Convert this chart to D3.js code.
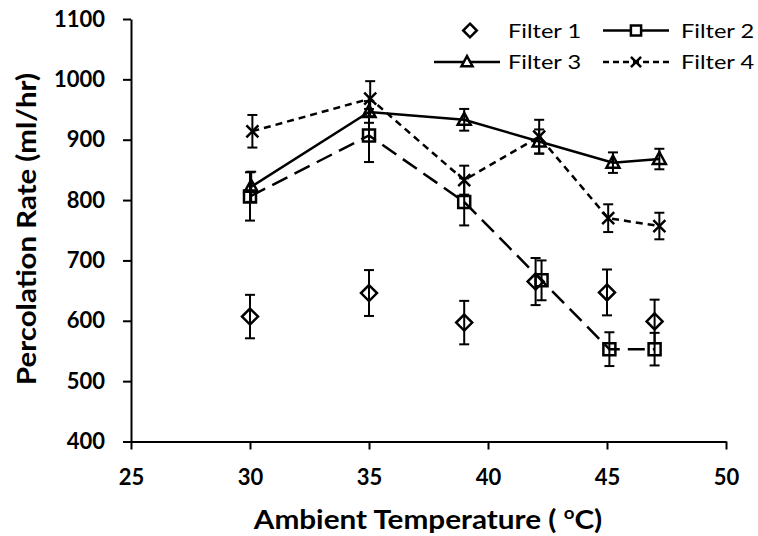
<!DOCTYPE html>
<html>
<head>
<meta charset="utf-8">
<script src="https://cdn.jsdelivr.net/npm/d3@7"></script>
<style>
  body { margin: 0; background: white; }
</style>
</head>
<body>
<div id="viz-container"></div>
<script>
let svgWidth = 758;
let svgHeight = 536;

// data
let xTicks = [25, 30, 35, 40, 45, 50];
let yTicks = [400, 500, 600, 700, 800, 900, 1000, 1100];

let filter1X = [30, 35, 39, 42, 45, 47];
let filter1Y = [607, 646, 597, 665, 647, 599];
let filter1Err = [36, 38, 36, 39, 38, 36];

let filter2X = [30, 35, 39, 42.25, 45.1, 47];
let filter2Y = [806, 907, 797, 667, 553, 553];
let filter2Err = [40, 44, 39, 33, 28, 27];

let filter3X = [30.05, 35, 39, 42.15, 45.25, 47.2];
let filter3Y = [822, 946, 933, 897, 862, 868];
let filter3Err = [25, 18, 18, 20, 17, 17];

let filter4X = [30.1, 35.05, 39, 42.15, 45.05, 47.2];
let filter4Y = [914, 968, 833, 905, 770, 757];
let filter4Err = [27, 29, 24, 28, 23, 22];

let seriesNames = ["Filter 1", "Filter 2", "Filter 3", "Filter 4"];

let viz = d3.select("#viz-container")
  .append("svg")
    .attr("width", svgWidth)
    .attr("height", svgHeight)
    .style("background-color", "white");

let xScale = d3.scaleLinear().domain([25, 50]).range([131, 726]);
let yScale = d3.scaleLinear().domain([400, 1100]).range([441.5, 19]);

function makeSeries(xs, ys, errs){
  return xs.map(function(x, i){
    return {x: x, y: ys[i], e: errs[i]};
  });
}

let series = [
  {name: seriesNames[0], data: makeSeries(filter1X, filter1Y, filter1Err), line: false, dash: null, marker: "diamond"},
  {name: seriesNames[1], data: makeSeries(filter2X, filter2Y, filter2Err), line: true, dash: "17,8", marker: "square"},
  {name: seriesNames[2], data: makeSeries(filter3X, filter3Y, filter3Err), line: true, dash: null, marker: "triangle"},
  {name: seriesNames[3], data: makeSeries(filter4X, filter4Y, filter4Err), line: true, dash: "7,5", marker: "cross"}
];

// axes
let yAxis = d3.axisLeft(yScale).tickValues(yTicks).tickFormat(d3.format("d"))
  .tickSize(8).tickSizeOuter(0).tickPadding(18);
let xAxis = d3.axisBottom(xScale).tickValues(xTicks).tickFormat(d3.format("d"))
  .tickSize(8).tickSizeOuter(0).tickPadding(20);

let yG = viz.append("g").attr("transform", "translate(131,0)").call(yAxis);
let xG = viz.append("g").attr("transform", "translate(0,441.5)").call(xAxis);

[yG, xG].forEach(function(g){
  g.select(".domain").attr("stroke", "black").attr("stroke-width", 2);
  g.selectAll(".tick line").attr("stroke", "black").attr("stroke-width", 2);
  g.selectAll(".tick text")
    .attr("fill", "black")
    .attr("font-family", "Lato")
    .attr("font-weight", "bold")
    .attr("font-size", 22);
});

// axis titles (text is a bit wider in the picture, so stretch along the baseline)
viz.append("text")
  .attr("transform", "translate(36,229) rotate(-90) scale(1.09,1)")
  .attr("text-anchor", "middle")
  .attr("font-family", "Lato")
  .attr("font-weight", "bold")
  .attr("font-size", 27)
  .text("Percolation Rate (ml/hr)");

let xTitle = viz.append("text")
  .attr("transform", "translate(428,529) scale(1.1,1)")
  .attr("text-anchor", "middle")
  .attr("font-family", "Lato")
  .attr("font-weight", "bold")
  .attr("font-size", 27);
xTitle.append("tspan").text("Ambient Temperature ( ");
xTitle.append("tspan").attr("font-size", 17).attr("dy", -10).text("o");
xTitle.append("tspan").attr("dy", 10).text("C)");

// line generator
let lineGen = d3.line()
  .x(function(d){ return xScale(d.x); })
  .y(function(d){ return yScale(d.y); });

// marker paths
function markerPath(type, s){
  s = s || 1;
  if(type == "diamond"){
    return "M0," + (-8*s) + "L" + (8*s) + ",0L0," + (8*s) + "L" + (-8*s) + ",0Z";
  }else if(type == "square"){
    return "M" + (-6*s) + "," + (-6*s) + "L" + (6*s) + "," + (-6*s) + "L" + (6*s) + "," + (6*s) + "L" + (-6*s) + "," + (6*s) + "Z";
  }else if(type == "triangle"){
    return "M0," + (-7*s) + "L" + (6.5*s) + "," + (5*s) + "L" + (-6.5*s) + "," + (5*s) + "Z";
  }else if(type == "cross"){
    return "M" + (-6*s) + "," + (-6*s) + "L" + (6*s) + "," + (6*s) + "M" + (-6*s) + "," + (6*s) + "L" + (6*s) + "," + (-6*s);
  }
}

series.forEach(function(s){
  let g = viz.append("g").attr("class", "series");

  if(s.line){
    g.append("path")
      .datum(s.data)
      .attr("d", lineGen)
      .attr("fill", "none")
      .attr("stroke", "black")
      .attr("stroke-width", 2.5)
      .attr("stroke-dasharray", s.dash);
  }

  // error bars
  let eb = g.selectAll(".err").data(s.data).enter()
    .append("g")
    .attr("class", "err")
    .attr("transform", function(d){ return "translate(" + xScale(d.x) + ",0)"; });
  eb.append("line")
    .attr("x1", 0).attr("x2", 0)
    .attr("y1", function(d){ return yScale(d.y + d.e); })
    .attr("y2", function(d){ return yScale(d.y - d.e); })
    .attr("stroke", "black").attr("stroke-width", 2);
  eb.append("line")
    .attr("x1", -5).attr("x2", 5)
    .attr("y1", function(d){ return yScale(d.y + d.e); })
    .attr("y2", function(d){ return yScale(d.y + d.e); })
    .attr("stroke", "black").attr("stroke-width", 2);
  eb.append("line")
    .attr("x1", -5).attr("x2", 5)
    .attr("y1", function(d){ return yScale(d.y - d.e); })
    .attr("y2", function(d){ return yScale(d.y - d.e); })
    .attr("stroke", "black").attr("stroke-width", 2);

  g.selectAll(".mark").data(s.data).enter()
    .append("path")
    .attr("class", "mark")
    .attr("transform", function(d){ return "translate(" + xScale(d.x) + "," + yScale(d.y) + ")"; })
    .attr("d", markerPath(s.marker))
    .attr("fill", "none")
    .attr("stroke", "black")
    .attr("stroke-width", 2.5);
});

// legend
let legendItems = [
  {name: seriesNames[0], x: 470, y: 30.5, line: false, dash: null, marker: "diamond", tx: 508},
  {name: seriesNames[1], x: 636, y: 30.5, line: true, dash: null, marker: "square", tx: 681},
  {name: seriesNames[2], x: 467, y: 62, line: true, dash: null, marker: "triangle", tx: 508},
  {name: seriesNames[3], x: 636, y: 62, line: true, dash: "6,4", marker: "cross", tx: 681}
];

let legend = viz.selectAll(".legendItem").data(legendItems).enter()
  .append("g")
  .attr("class", "legendItem");

legend.filter(function(d){ return d.line; })
  .append("line")
  .attr("x1", function(d){ return d.x - 33; })
  .attr("x2", function(d){ return d.x + 33; })
  .attr("y1", function(d){ return d.y; })
  .attr("y2", function(d){ return d.y; })
  .attr("stroke", "black")
  .attr("stroke-width", 2.5)
  .attr("stroke-dasharray", function(d){ return d.dash; });

legend.append("path")
  .attr("transform", function(d){ return "translate(" + d.x + "," + d.y + ")"; })
  .attr("d", function(d){ return markerPath(d.marker, 0.85); })
  .attr("fill", function(d){ return d.marker == "cross" ? "none" : "white"; })
  .attr("stroke", "black")
  .attr("stroke-width", 2.5);

legend.append("text")
  .attr("transform", function(d){ return "translate(" + d.tx + "," + (d.y + 7) + ") scale(1.18,1)"; })
  .attr("font-family", "Lato")
  .attr("font-size", 20)
  .attr("fill", "black")
  .text(function(d){ return d.name; });
</script>
</body>
</html>
